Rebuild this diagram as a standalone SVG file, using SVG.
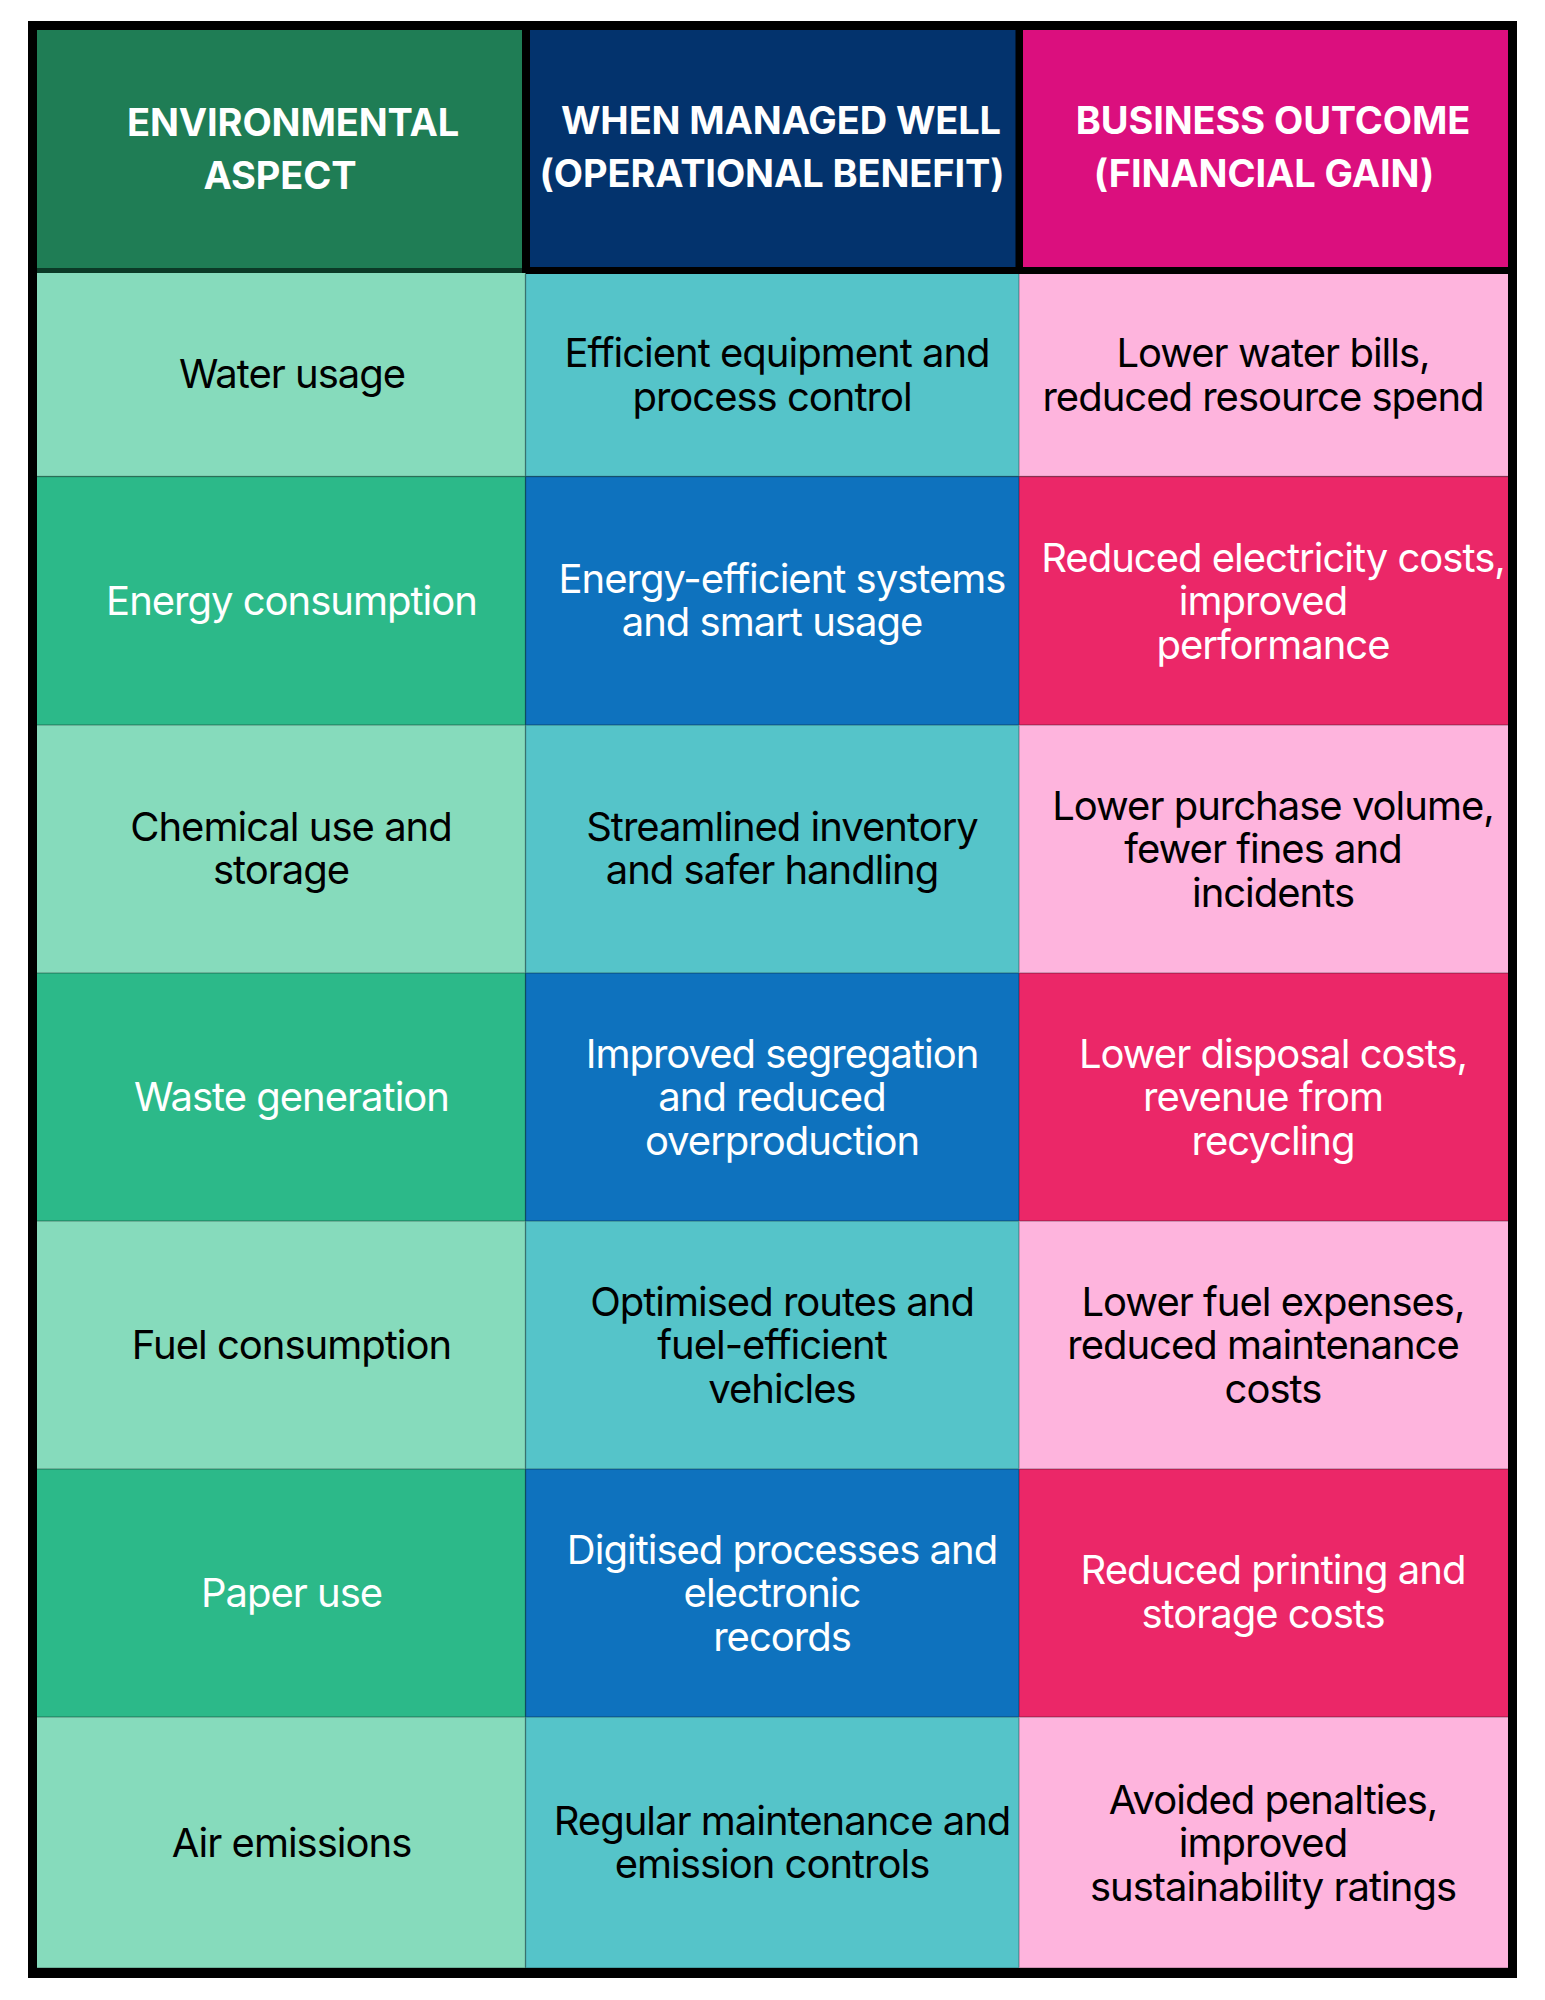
<svg xmlns="http://www.w3.org/2000/svg" width="1545" height="2000" viewBox="0 0 1545 2000">
<style>
text{font-family:Inter,"Noto Sans","Liberation Sans",sans-serif;font-size:40px;font-weight:380;letter-spacing:-1px;text-anchor:middle}
.h{font-weight:700;fill:#fff;font-size:38px;letter-spacing:-.12px}
.d{fill:#000}
.l{fill:#fff}
.g{stroke:#000;stroke-opacity:.25;stroke-width:1.5;fill:none}
</style>
<rect width="1545" height="2000" fill="#fff"/>
<rect x="28" y="21" width="1489" height="1957" fill="#000"/>
<g id="h1"><rect x="37" y="30" width="485" height="238" fill="#1F7D55"/><rect x="37" y="268" width="485" height="5" fill="#0b3a27"/><text class="h" x="293" y="136">ENVIRONMENTAL</text><text class="h" x="280" y="189">ASPECT</text></g>
<g id="h2"><rect x="530" y="30" width="485.500" height="237" fill="#03336D"/><text class="h" x="781" y="134">WHEN MANAGED WELL</text><text class="h" x="772" y="187">(OPERATIONAL BENEFIT)</text></g>
<g id="h3"><rect x="1023" y="30" width="485" height="237" fill="#DB0F7E"/><text class="h" x="1273" y="134">BUSINESS OUTCOME</text><text class="h" x="1264" y="187">(FINANCIAL GAIN)</text></g>

<g id="r1a"><rect x="37" y="273" width="488.500" height="203.500" fill="#86DBBC"/><text class="d" x="292" y="388">Water usage</text></g>
<g id="r1b"><rect x="525.500" y="274" width="493.500" height="202.500" fill="#55C4C9"/><text class="d" x="777" y="367">Efficient equipment and</text><text class="d" x="772" y="411">process control</text></g>
<g id="r1c"><rect x="1019" y="274" width="489" height="202.500" fill="#FEB4DD"/><text class="d" x="1273" y="367">Lower water bills,</text><text class="d" x="1263" y="411">reduced resource spend</text></g>

<g id="r2a"><rect x="37" y="476.500" width="488.500" height="248.500" fill="#2CB989"/><text class="l" x="291.500" y="615">Energy consumption</text></g>
<g id="r2b"><rect x="525.500" y="476.500" width="493.500" height="248.500" fill="#0E72BE"/><text class="l" x="782" y="593">Energy-efficient systems</text><text class="l" x="772" y="636">and smart usage</text></g>
<g id="r2c"><rect x="1019" y="476.500" width="489" height="248.500" fill="#EB2768"/><text class="l" x="1273" y="572">Reduced electricity costs,</text><text class="l" x="1263" y="615">improved</text><text class="l" x="1273" y="659">performance</text></g>

<g id="r3a"><rect x="37" y="725" width="488.500" height="248" fill="#86DBBC"/><text class="d" x="291" y="841">Chemical use and</text><text class="d" x="281" y="884">storage</text></g>
<g id="r3b"><rect x="525.500" y="725" width="493.500" height="248" fill="#55C4C9"/><text class="d" x="782" y="841">Streamlined inventory</text><text class="d" x="772" y="884">and safer handling</text></g>
<g id="r3c"><rect x="1019" y="725" width="489" height="248" fill="#FEB4DD"/><text class="d" x="1273" y="820">Lower purchase volume,</text><text class="d" x="1263" y="863">fewer fines and</text><text class="d" x="1273" y="907">incidents</text></g>

<g id="r4a"><rect x="37" y="973" width="488.500" height="248" fill="#2CB989"/><text class="l" x="291.500" y="1111">Waste generation</text></g>
<g id="r4b"><rect x="525.500" y="973" width="493.500" height="248" fill="#0E72BE"/><text class="l" x="782" y="1068">Improved segregation</text><text class="l" x="772" y="1111">and reduced</text><text class="l" x="782" y="1155">overproduction</text></g>
<g id="r4c"><rect x="1019" y="973" width="489" height="248" fill="#EB2768"/><text class="l" x="1273" y="1068">Lower disposal costs,</text><text class="l" x="1263" y="1111">revenue from</text><text class="l" x="1273" y="1155">recycling</text></g>

<g id="r5a"><rect x="37" y="1221" width="488.500" height="248" fill="#86DBBC"/><text class="d" x="291.500" y="1359">Fuel consumption</text></g>
<g id="r5b"><rect x="525.500" y="1221" width="493.500" height="248" fill="#55C4C9"/><text class="d" x="782" y="1316">Optimised routes and</text><text class="d" x="772" y="1359">fuel-efficient</text><text class="d" x="782" y="1403">vehicles</text></g>
<g id="r5c"><rect x="1019" y="1221" width="489" height="248" fill="#FEB4DD"/><text class="d" x="1273" y="1316">Lower fuel expenses,</text><text class="d" x="1263" y="1359">reduced maintenance</text><text class="d" x="1273" y="1403">costs</text></g>

<g id="r6a"><rect x="37" y="1469" width="488.500" height="248" fill="#2CB989"/><text class="l" x="291.500" y="1607">Paper use</text></g>
<g id="r6b"><rect x="525.500" y="1469" width="493.500" height="248" fill="#0E72BE"/><text class="l" x="782" y="1564">Digitised processes and</text><text class="l" x="772" y="1607">electronic</text><text class="l" x="782" y="1651">records</text></g>
<g id="r6c"><rect x="1019" y="1469" width="489" height="248" fill="#EB2768"/><text class="l" x="1273" y="1584">Reduced printing and</text><text class="l" x="1263" y="1628">storage costs</text></g>

<g id="r7a"><rect x="37" y="1717" width="488.500" height="251" fill="#86DBBC"/><text class="d" x="291.500" y="1857">Air emissions</text></g>
<g id="r7b"><rect x="525.500" y="1717" width="493.500" height="251" fill="#55C4C9"/><text class="d" x="782" y="1835">Regular maintenance and</text><text class="d" x="772" y="1878">emission controls</text></g>
<g id="r7c"><rect x="1019" y="1717" width="489" height="251" fill="#FEB4DD"/><text class="d" x="1273" y="1814">Avoided penalties,</text><text class="d" x="1263" y="1857">improved</text><text class="d" x="1273" y="1901">sustainability ratings</text></g>

<path class="g" d="M525.500 274V1968M1019 274V1968M37 476.500H1508M37 725H1508M37 973H1508M37 1221H1508M37 1469H1508M37 1717H1508M37 1968H1508"/>
</svg>
